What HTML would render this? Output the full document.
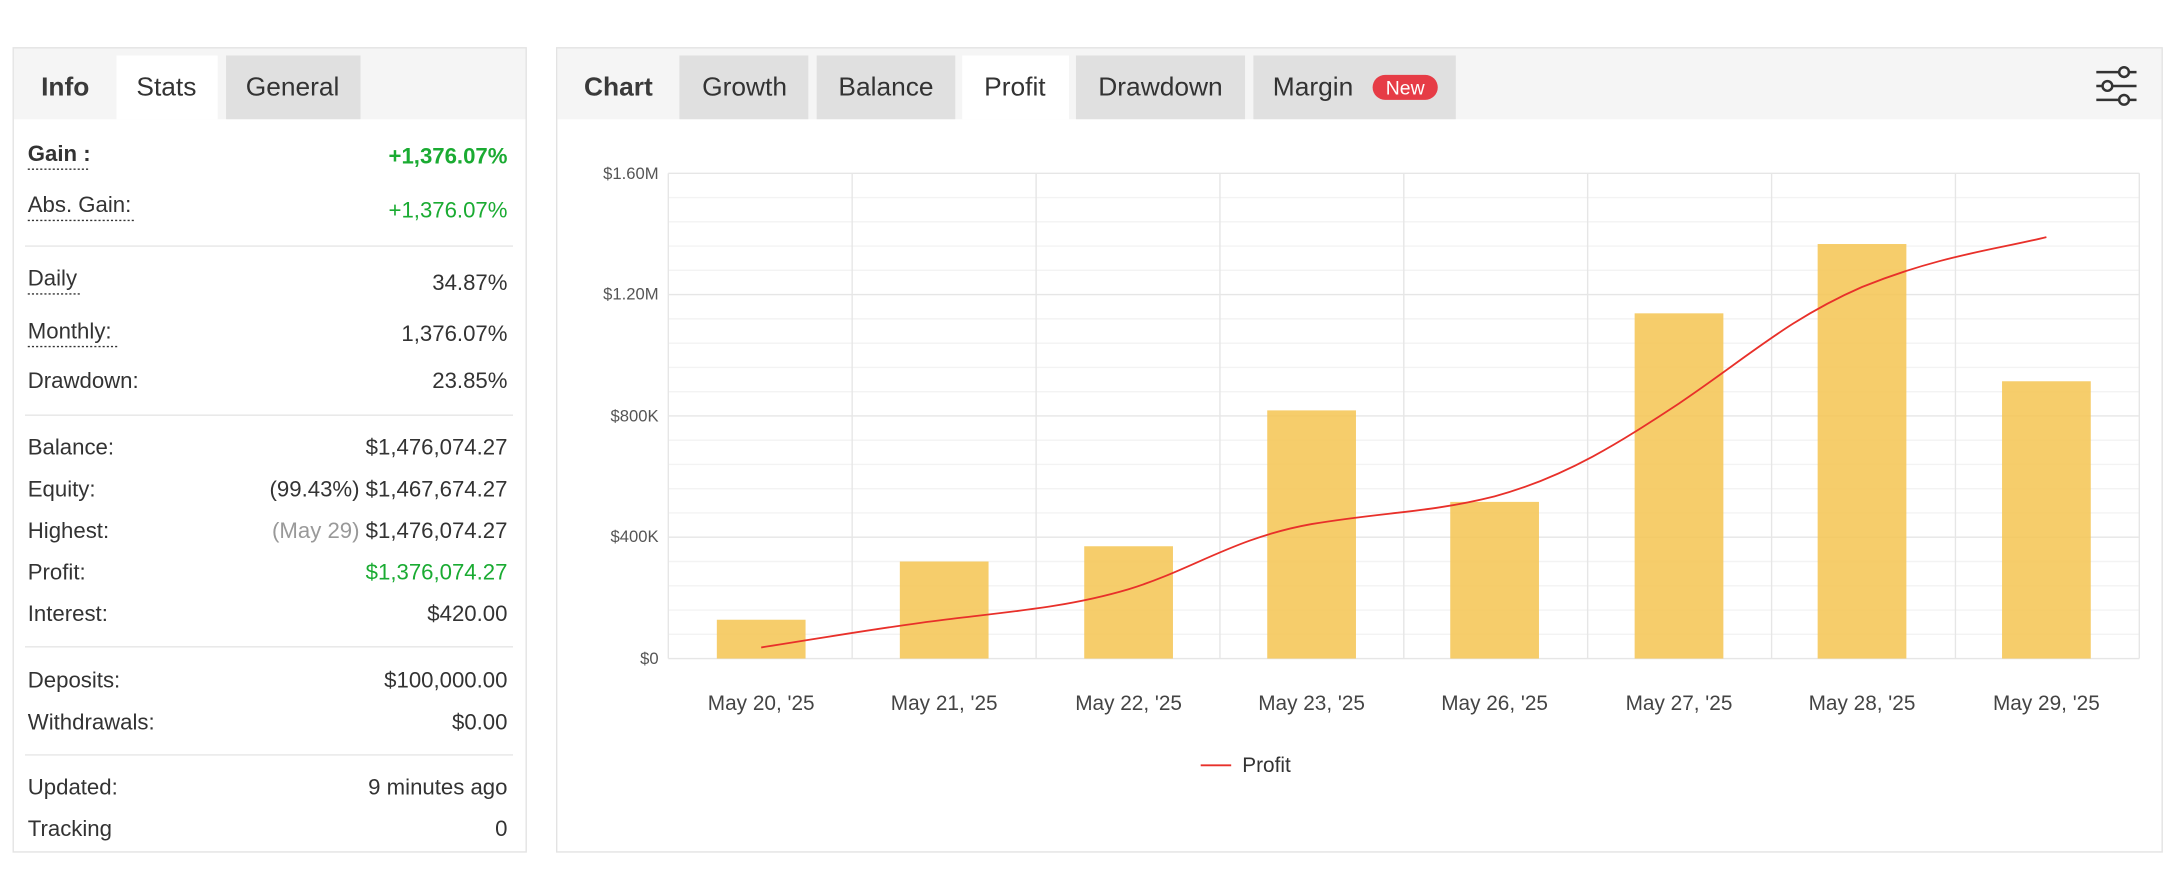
<!DOCTYPE html>
<html><head><meta charset="utf-8"><style>
html,body{margin:0;padding:0;background:#fff;}
svg{display:block;font-family:"Liberation Sans",Arial,sans-serif;}
</style></head><body>
<svg width="2174" height="874" viewBox="0 0 1568 630.4" xmlns="http://www.w3.org/2000/svg">
<!-- Left panel -->
<rect x="9.5" y="34.5" width="370" height="580" fill="#fff" stroke="#e3e3e3"/>
<rect x="10" y="35" width="369" height="51" fill="#f5f5f5"/>
<rect x="84" y="40" width="73" height="46" fill="#fff"/>
<rect x="163" y="40" width="97" height="46" fill="#e0e0e0"/>
<g font-size="19" fill="#333">
<text x="47" y="69" text-anchor="middle" font-weight="bold" fill="#3a3a3a">Info</text>
<text x="120" y="69" text-anchor="middle">Stats</text>
<text x="211" y="69" text-anchor="middle">General</text>
</g>
<g font-size="16" fill="#333">
<text x="20" y="116" font-weight="bold">Gain :</text>
<line x1="20" y1="122" x2="64" y2="122" stroke="#333" stroke-dasharray="1.5,1.5"/>
<text x="366" y="118" text-anchor="end" font-weight="bold" fill="#1aab32">+1,376.07%</text>
<text x="20" y="153">Abs. Gain:</text>
<line x1="20" y1="159" x2="98" y2="159" stroke="#333" stroke-dasharray="1.5,1.5"/>
<text x="366" y="157" text-anchor="end" fill="#1aab32">+1,376.07%</text>
<line x1="18" y1="177.5" x2="370" y2="177.5" stroke="#e6e6e6"/>
<text x="20" y="206">Daily</text>
<line x1="20" y1="212" x2="58" y2="212" stroke="#333" stroke-dasharray="1.5,1.5"/>
<text x="366" y="209" text-anchor="end">34.87%</text>
<text x="20" y="244">Monthly:</text>
<line x1="20" y1="250" x2="86" y2="250" stroke="#333" stroke-dasharray="1.5,1.5"/>
<text x="366" y="246" text-anchor="end">1,376.07%</text>
<text x="20" y="280">Drawdown:</text>
<text x="366" y="280" text-anchor="end">23.85%</text>
<line x1="18" y1="299.5" x2="370" y2="299.5" stroke="#e6e6e6"/>
<text x="20" y="328">Balance:</text>
<text x="366" y="328" text-anchor="end">$1,476,074.27</text>
<text x="20" y="358">Equity:</text>
<text x="366" y="358" text-anchor="end"><tspan>(99.43%) </tspan>$1,467,674.27</text>
<text x="20" y="388">Highest:</text>
<text x="366" y="388" text-anchor="end"><tspan fill="#999">(May 29) </tspan>$1,476,074.27</text>
<text x="20" y="418">Profit:</text>
<text x="366" y="418" text-anchor="end" fill="#1aab32">$1,376,074.27</text>
<text x="20" y="448">Interest:</text>
<text x="366" y="448" text-anchor="end">$420.00</text>
<line x1="18" y1="466.5" x2="370" y2="466.5" stroke="#e6e6e6"/>
<text x="20" y="496">Deposits:</text>
<text x="366" y="496" text-anchor="end">$100,000.00</text>
<text x="20" y="526">Withdrawals:</text>
<text x="366" y="526" text-anchor="end">$0.00</text>
<line x1="18" y1="544.5" x2="370" y2="544.5" stroke="#e6e6e6"/>
<text x="20" y="573">Updated:</text>
<text x="366" y="573" text-anchor="end">9 minutes ago</text>
<text x="20" y="603">Tracking</text>
<text x="366" y="603" text-anchor="end">0</text>
</g>
<!-- Right panel -->
<rect x="401.5" y="34.5" width="1158" height="580" fill="#fff" stroke="#e3e3e3"/>
<rect x="402" y="35" width="1157" height="51" fill="#f5f5f5"/>
<rect x="490" y="40" width="93" height="46" fill="#e0e0e0"/>
<rect x="589" y="40" width="100" height="46" fill="#e0e0e0"/>
<rect x="694" y="40" width="77" height="46" fill="#fff"/>
<rect x="776" y="40" width="122" height="46" fill="#e0e0e0"/>
<rect x="904" y="40" width="146" height="46" fill="#e0e0e0"/>
<g font-size="19" fill="#333">
<text x="446" y="69" text-anchor="middle" font-weight="bold" fill="#3a3a3a">Chart</text>
<text x="537" y="69" text-anchor="middle">Growth</text>
<text x="639" y="69" text-anchor="middle">Balance</text>
<text x="732" y="69" text-anchor="middle">Profit</text>
<text x="837" y="69" text-anchor="middle">Drawdown</text>
<text x="918" y="69">Margin</text>
</g>
<rect x="990" y="54" width="47" height="18" rx="9" fill="#e63c46"/>
<text x="1013.5" y="68" font-size="14" fill="#fff" text-anchor="middle">New</text>
<!-- settings icon -->
<g stroke="#333" stroke-width="1.8" fill="#f5f5f5">
<line x1="1512" y1="52" x2="1541" y2="52"/>
<line x1="1512" y1="62" x2="1541" y2="62"/>
<line x1="1512" y1="72" x2="1541" y2="72"/>
<circle cx="1532" cy="52" r="3.5"/>
<circle cx="1520" cy="62" r="3.5"/>
<circle cx="1532" cy="72" r="3.5"/>
</g>
<!-- chart grid -->
<g stroke="#f3f3f3" stroke-width="1">
<line x1="482" y1="142.5" x2="1543" y2="142.5"/><line x1="482" y1="160" x2="1543" y2="160"/><line x1="482" y1="177.5" x2="1543" y2="177.5"/><line x1="482" y1="195" x2="1543" y2="195"/>
<line x1="482" y1="230" x2="1543" y2="230"/><line x1="482" y1="247.5" x2="1543" y2="247.5"/><line x1="482" y1="265" x2="1543" y2="265"/><line x1="482" y1="282.5" x2="1543" y2="282.5"/>
<line x1="482" y1="317.5" x2="1543" y2="317.5"/><line x1="482" y1="335" x2="1543" y2="335"/><line x1="482" y1="352.5" x2="1543" y2="352.5"/><line x1="482" y1="370" x2="1543" y2="370"/>
<line x1="482" y1="405" x2="1543" y2="405"/><line x1="482" y1="422.5" x2="1543" y2="422.5"/><line x1="482" y1="440" x2="1543" y2="440"/><line x1="482" y1="457.5" x2="1543" y2="457.5"/>
</g>
<g stroke="#e6e6e6" stroke-width="1">
<line x1="482" y1="125" x2="1543" y2="125"/><line x1="482" y1="212.5" x2="1543" y2="212.5"/><line x1="482" y1="300" x2="1543" y2="300"/><line x1="482" y1="387.5" x2="1543" y2="387.5"/><line x1="482" y1="475" x2="1543" y2="475"/>
<line x1="482" y1="125" x2="482" y2="475"/><line x1="614.6" y1="125" x2="614.6" y2="475"/><line x1="747.3" y1="125" x2="747.3" y2="475"/><line x1="879.9" y1="125" x2="879.9" y2="475"/><line x1="1012.5" y1="125" x2="1012.5" y2="475"/><line x1="1145.1" y1="125" x2="1145.1" y2="475"/><line x1="1277.8" y1="125" x2="1277.8" y2="475"/><line x1="1410.4" y1="125" x2="1410.4" y2="475"/><line x1="1543" y1="125" x2="1543" y2="475"/>
</g>
<g font-size="12" fill="#555" text-anchor="end">
<text x="475" y="129">$1.60M</text><text x="475" y="216">$1.20M</text><text x="475" y="304">$800K</text><text x="475" y="391">$400K</text><text x="475" y="479">$0</text>
</g>
<g fill="#f5c451" fill-opacity="0.85">
<rect x="517" y="447" width="64" height="28"/>
<rect x="649" y="405" width="64" height="70"/>
<rect x="782" y="394" width="64" height="81"/>
<rect x="914" y="296" width="64" height="179"/>
<rect x="1046" y="362" width="64" height="113"/>
<rect x="1179" y="226" width="64" height="249"/>
<rect x="1311" y="176" width="64" height="299"/>
<rect x="1444" y="275" width="64" height="200"/>
</g>
<path d="M549,467 C600,459 640,452 681,447 C730,441 770,438 814,425 C860,411 890,388 946,378 C1000,369 1030,370 1078,358 C1130,344 1170,318 1211,291 C1260,258 1290,230 1343,207 C1400,184 1440,180 1476,171" fill="none" stroke="#e8302a" stroke-width="1.3"/>
<g font-size="15" fill="#444" text-anchor="middle">
<text x="549" y="512">May 20, '25</text><text x="681" y="512">May 21, '25</text><text x="814" y="512">May 22, '25</text><text x="946" y="512">May 23, '25</text><text x="1078" y="512">May 26, '25</text><text x="1211" y="512">May 27, '25</text><text x="1343" y="512">May 28, '25</text><text x="1476" y="512">May 29, '25</text>
</g>
<line x1="866" y1="552" x2="888" y2="552" stroke="#e8302a" stroke-width="1.3"/>
<text x="896" y="557" font-size="15" fill="#333">Profit</text>
</svg>
</body></html>
